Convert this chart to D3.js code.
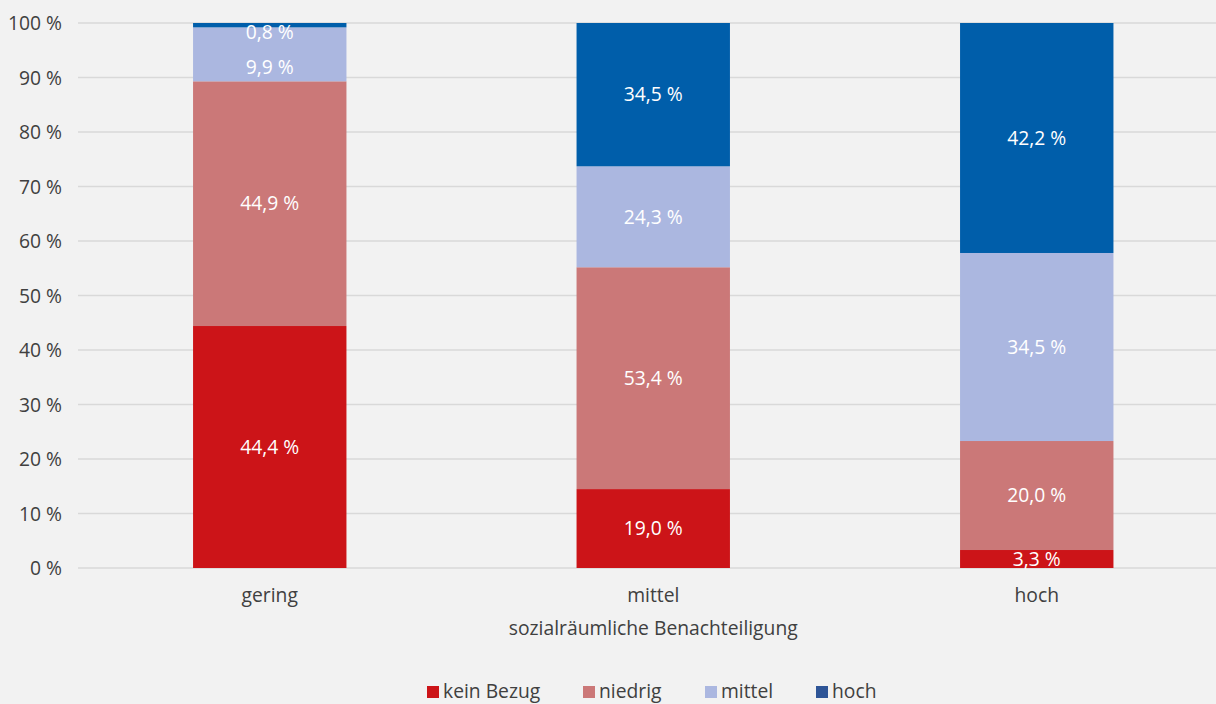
<!DOCTYPE html>
<html><head><meta charset="utf-8">
<script src="https://cdn.jsdelivr.net/npm/d3@7"></script>
<style>body{margin:0;background:#f2f2f2;}svg{display:block;font-family:"Open Sans",sans-serif;}</style>
</head><body><div id="c"></div>
<script>
const categories = ["gering", "mittel", "hoch"];
const seriesNames = ["kein Bezug", "niedrig", "mittel", "hoch"];
const keinBezug = [44.4, 19.0, 3.3];
const niedrig = [44.9, 53.4, 20.0];
const mittel = [9.9, 24.3, 34.5];
const hoch = [0.8, 34.5, 42.2];
const yTicks = [0, 10, 20, 30, 40, 50, 60, 70, 80, 90, 100];
const colors = ["#cc1418", "#cb7878", "#abb7e0", "#005eaa"];
const legendColors = ["#cc1418", "#cb7878", "#abb7e0", "#2e5597"];
const xTitle = "sozialräumliche Benachteiligung";

const W = 1216, H = 704;
const FONT = "'Open Sans', sans-serif";
const FS = 19.3;
const svg = d3.select("#c").append("svg").attr("width", W).attr("height", H);
svg.append("rect").attr("width", W).attr("height", H).attr("fill", "#f2f2f2");

const rows = categories.map((c, i) => ({cat: c, "kein Bezug": keinBezug[i], "niedrig": niedrig[i], "mittel": mittel[i], "hoch": hoch[i]}));
const stack = d3.stack().keys(seriesNames).offset(d3.stackOffsetExpand)(rows);

const x = d3.scaleBand().domain(categories).range([78, 1228.5]).paddingInner(0.6).paddingOuter(0.3);
const y = d3.scaleLinear().domain([0, 100]).range([568, 23]);

// grid
svg.append("g").selectAll("line").data(yTicks).join("line")
  .attr("x1", 78).attr("x2", W).attr("y1", d => y(d)).attr("y2", d => y(d))
  .attr("stroke", "#d9d9d9").attr("stroke-width", 1.5);

// y axis labels
const yAxis = d3.axisLeft(y).tickValues(yTicks).tickFormat(d => d + " %").tickSize(0).tickPadding(0);
const ga = svg.append("g").attr("transform", "translate(62,0)").call(yAxis);
ga.select(".domain").remove();
ga.selectAll("text").attr("font-size", FS).attr("fill", "#404040").attr("font-family", FONT).attr("dy", "0.35em");

// bars
const g = svg.append("g");
stack.forEach((s, si) => {
  g.selectAll(null).data(s).join("rect")
    .attr("x", d => x(d.data.cat)).attr("width", x.bandwidth())
    .attr("y", d => y(d[1] * 100)).attr("height", d => y(d[0] * 100) - y(d[1] * 100))
    .attr("fill", colors[si]);
});
// labels: centred in segment, pushed down to avoid overlapping the label above
categories.forEach((c, ci) => {
  let prev = y(100) + 9 - 35;
  for (let si = stack.length - 1; si >= 0; si--) {
    const d = stack[si][ci];
    const cy = Math.max((y(d[0] * 100) + y(d[1] * 100)) / 2, prev + 35);
    prev = cy;
    g.append("text")
      .attr("x", x(c) + x.bandwidth() / 2).attr("y", cy)
      .attr("dy", "0.35em").attr("text-anchor", "middle")
      .attr("font-size", FS).attr("fill", "#ffffff").attr("font-family", FONT)
      .text(d.data[stack[si].key].toFixed(1).replace(".", ",") + " %");
  }
});

// x axis
const xAxis = d3.axisBottom(x).tickSize(0).tickPadding(0);
const gx = svg.append("g").attr("transform", "translate(0,595)").call(xAxis);
gx.select(".domain").remove();
gx.selectAll("text").attr("font-size", FS).attr("fill", "#404040").attr("font-family", FONT).attr("dy", "0.35em");

svg.append("text").attr("x", x("mittel") + x.bandwidth() / 2).attr("y", 628).attr("dy", "0.35em")
  .attr("text-anchor", "middle").attr("font-size", FS).attr("fill", "#404040").attr("font-family", FONT).text(xTitle);

// legend
const legendX = [427, 583, 705, 816];
const lg = svg.append("g");
seriesNames.forEach((n, i) => {
  lg.append("rect").attr("x", legendX[i]).attr("y", 686).attr("width", 12).attr("height", 12).attr("fill", legendColors[i]);
  lg.append("text").attr("x", legendX[i] + 16).attr("y", 691).attr("dy", "0.35em")
    .attr("font-size", FS).attr("fill", "#404040").attr("font-family", FONT).text(n);
});
</script></body></html>
